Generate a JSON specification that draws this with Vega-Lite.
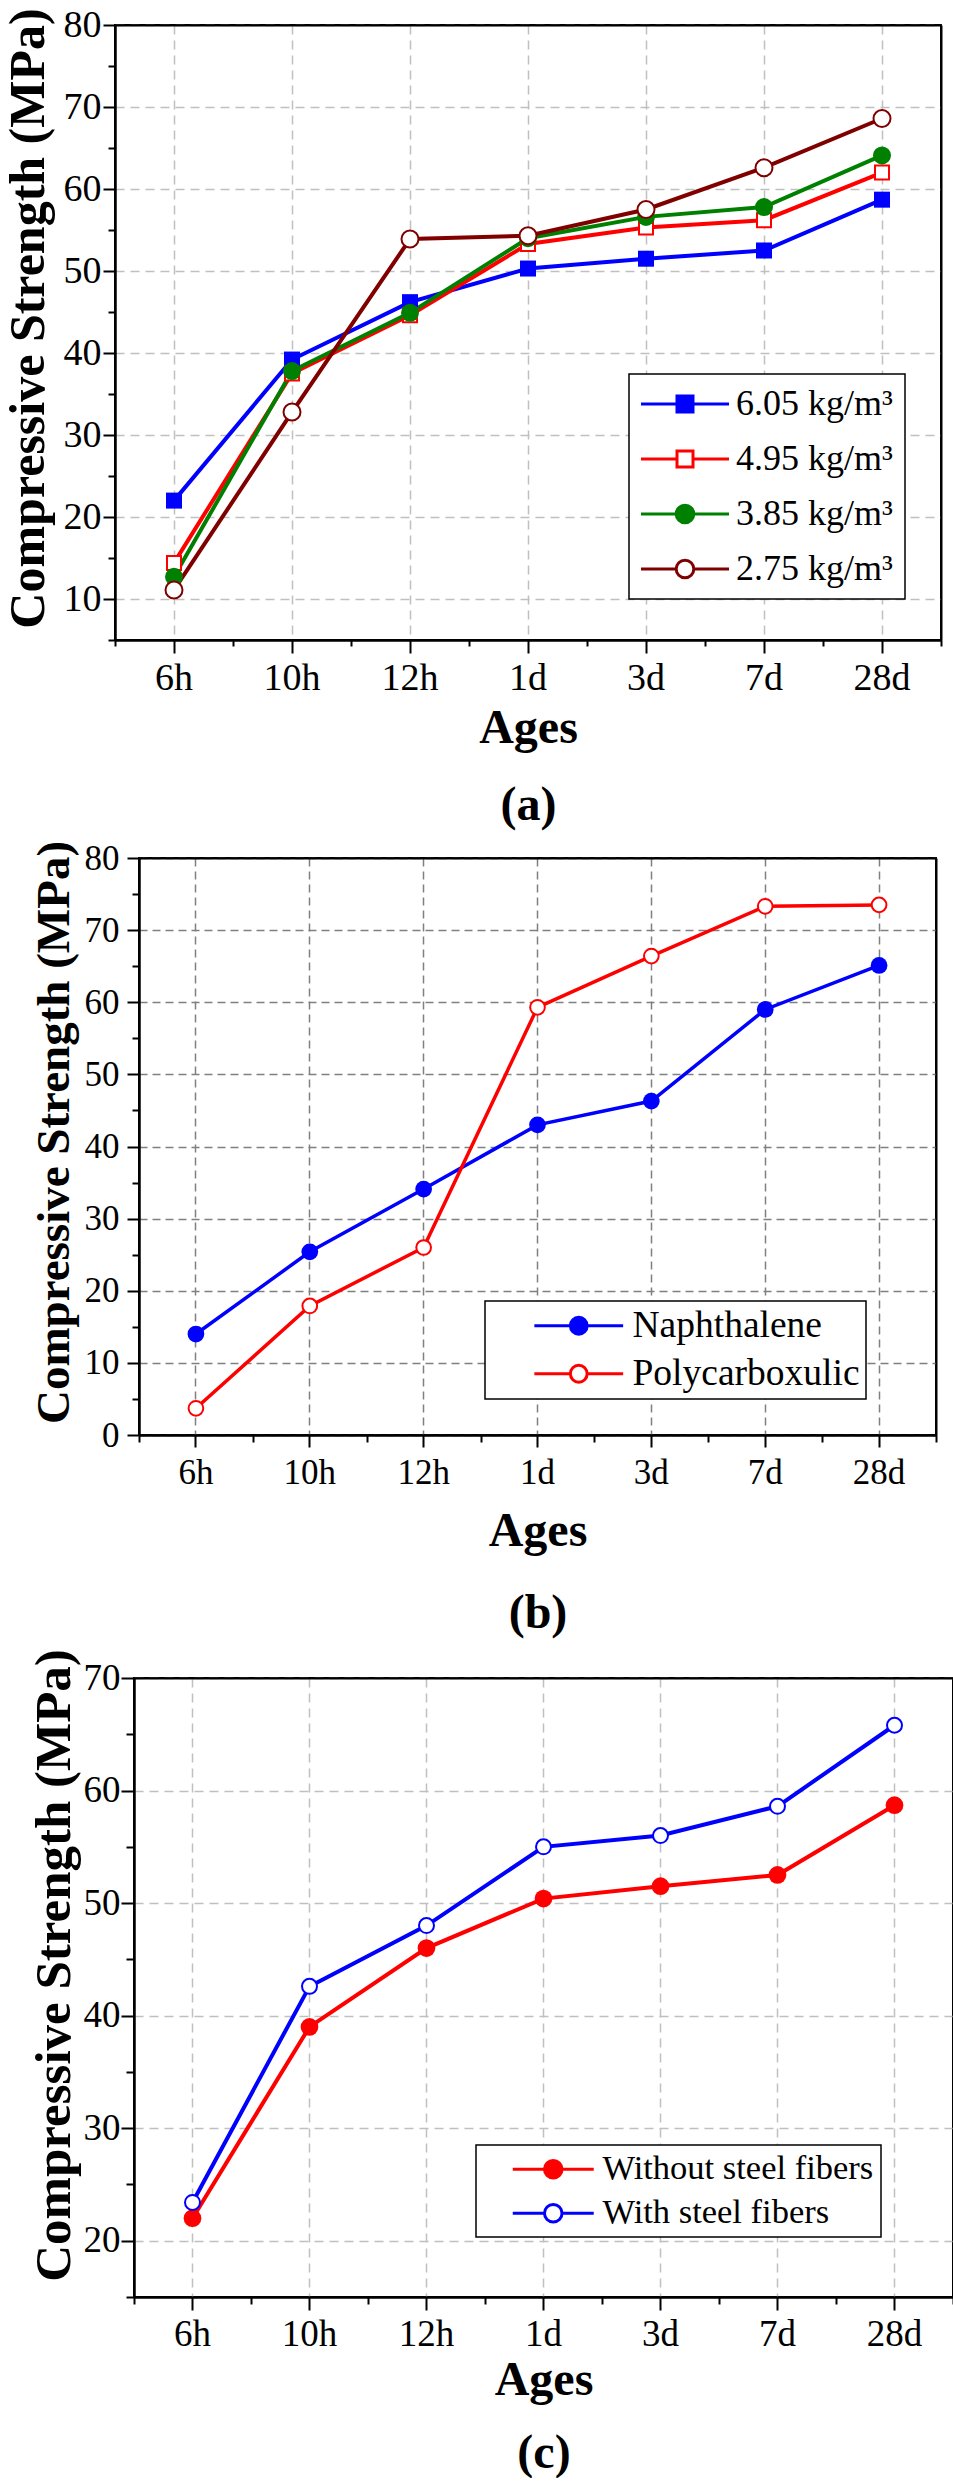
{
"$schema": "https://vega.github.io/schema/vega-lite/v6.json",
"padding": 0,
"autosize": {"type": "pad"},
"background": "white",
"config": {
  "font": "Liberation Serif",
  "view": {"stroke": "black", "strokeWidth": 2},
  "axis": {"labelColor": "black", "titleColor": "black", "domainColor": "black", "tickColor": "black", "labelFont": "Liberation Serif", "titleFont": "Liberation Serif", "labelOverlap": false, "labelFlush": false}
},
"spacing": 3,
"resolve": {"scale": {"color": "independent", "fill": "independent", "stroke": "independent", "shape": "independent"}},
"vconcat": [
{"spacing": 0, "resolve": {"scale": {"color": "independent", "fill": "independent", "stroke": "independent", "shape": "independent"}}, "hconcat": [
{"width": 1, "height": 1, "data": {"values": []}, "mark": "point", "view": {"stroke": null}},
{
  "width": 826, "height": 615,
  "data": {"values": [
    {"age": "6h", "series": "6.05 kg/m³", "strength": 22.0},
    {"age": "10h", "series": "6.05 kg/m³", "strength": 39.2},
    {"age": "12h", "series": "6.05 kg/m³", "strength": 46.2},
    {"age": "1d", "series": "6.05 kg/m³", "strength": 50.3},
    {"age": "3d", "series": "6.05 kg/m³", "strength": 51.5},
    {"age": "7d", "series": "6.05 kg/m³", "strength": 52.5},
    {"age": "28d", "series": "6.05 kg/m³", "strength": 58.7},
    {"age": "6h", "series": "4.95 kg/m³", "strength": 14.4},
    {"age": "10h", "series": "4.95 kg/m³", "strength": 37.5},
    {"age": "12h", "series": "4.95 kg/m³", "strength": 44.6},
    {"age": "1d", "series": "4.95 kg/m³", "strength": 53.3},
    {"age": "3d", "series": "4.95 kg/m³", "strength": 55.3},
    {"age": "7d", "series": "4.95 kg/m³", "strength": 56.2},
    {"age": "28d", "series": "4.95 kg/m³", "strength": 62.0},
    {"age": "6h", "series": "3.85 kg/m³", "strength": 12.7},
    {"age": "10h", "series": "3.85 kg/m³", "strength": 37.8},
    {"age": "12h", "series": "3.85 kg/m³", "strength": 44.9},
    {"age": "1d", "series": "3.85 kg/m³", "strength": 54.0},
    {"age": "3d", "series": "3.85 kg/m³", "strength": 56.6},
    {"age": "7d", "series": "3.85 kg/m³", "strength": 57.8},
    {"age": "28d", "series": "3.85 kg/m³", "strength": 64.1},
    {"age": "6h", "series": "2.75 kg/m³", "strength": 11.1},
    {"age": "10h", "series": "2.75 kg/m³", "strength": 32.8},
    {"age": "12h", "series": "2.75 kg/m³", "strength": 53.9},
    {"age": "1d", "series": "2.75 kg/m³", "strength": 54.3},
    {"age": "3d", "series": "2.75 kg/m³", "strength": 57.5},
    {"age": "7d", "series": "2.75 kg/m³", "strength": 62.6},
    {"age": "28d", "series": "2.75 kg/m³", "strength": 68.6}
  ]},
  "encoding": {
    "x": {"field": "age", "type": "ordinal", "sort": ["6h","10h","12h","1d","3d","7d","28d"], "bandPosition": 0.5,
          "scale": {"type": "band", "paddingInner": 0, "paddingOuter": 0, "domain": ["6h","10h","12h","1d","3d","7d","28d"]}},
    "y": {"field": "strength", "type": "quantitative", "scale": {"domain": [5, 80], "nice": false, "zero": false}},
    "color": {"field": "series", "type": "nominal", "scale": {"domain": ["2.75 kg/m³","3.85 kg/m³","4.95 kg/m³","6.05 kg/m³"], "range": ["#800000","#008000","#ff0000","#0000ff"]}, "legend": null}
  },
  "resolve": {"axis": {"x": "independent", "y": "independent"}},
  "layer": [
    {
      "mark": {"type": "line", "strokeWidth": 4},
      "encoding": {
        "x": {"field": "age", "type": "ordinal", "sort": ["6h","10h","12h","1d","3d","7d","28d"], "bandPosition": 0.5,
              "axis": {"orient": "bottom", "title": ["Ages", "(a)"], "titleFontSize": 48, "titleFontWeight": "bold", "titleLineHeight": 77, "titleBaseline": "alphabetic", "titleY": 102, "titleAngle": 0, "titleAlign": "center",
                       "labelFont": "Liberation Serif", "labelFontSize": 38, "labelAngle": 0, "labelPadding": 6, "tickSize": 13, "tickWidth": 2, "domainWidth": 2,
                       "grid": true, "gridColor": "#c0c0c0", "gridDash": [9, 6], "gridWidth": 1.5}},
        "y": {"field": "strength", "type": "quantitative",
              "axis": {"orient": "left", "values": [10,20,30,40,50,60,70,80], "tickSize": 12, "tickWidth": 2, "domainWidth": 2, "labelFont": "Liberation Serif", "labelFontSize": 38, "labelPadding": 2,
                       "grid": true, "gridColor": "#c0c0c0", "gridDash": [9, 6], "gridWidth": 1.5,
                       "title": "Compressive Strength  (MPa)", "titleFontSize": 50, "titleFontWeight": "bold", "titleAngle": 270, "titleBaseline": "alphabetic", "titleAlign": "center", "titleX": -72, "titleY": 293}},
        "order": {"value": null}
      }
    },
    {
      "transform": [{"filter": {"field": "series", "equal": "6.05 kg/m³"}}],
      "mark": {"type": "point", "shape": "square", "filled": true, "size": 256, "opacity": 1},
      "encoding": {
        "x": {"field": "age", "type": "ordinal", "sort": ["6h","10h","12h","1d","3d","7d","28d"], "bandPosition": 0.5,
              "axis": {"orient": "bottom", "tickBand": "extent", "tickSize": 6, "tickWidth": 2, "labels": false, "domain": true, "domainWidth": 2, "grid": false, "title": null, "zindex": 1}},
        "y": {"field": "strength", "type": "quantitative",
              "axis": {"orient": "left", "values": [5,15,25,35,45,55,65,75], "tickSize": 7, "tickWidth": 2, "labels": false, "domain": true, "domainWidth": 2, "grid": false, "title": null, "zindex": 1}}
      }
    },
    {
      "transform": [{"filter": {"field": "series", "equal": "4.95 kg/m³"}}],
      "mark": {"type": "point", "shape": "square", "filled": false, "fill": "white", "size": 196, "strokeWidth": 2, "opacity": 1},
      "encoding": {
        "x": {"field": "age", "type": "ordinal", "sort": ["6h","10h","12h","1d","3d","7d","28d"], "bandPosition": 0.5,
              "axis": {"orient": "top", "ticks": false, "labels": false, "domain": true, "domainWidth": 2, "grid": false, "title": null, "zindex": 1}},
        "y": {"field": "strength", "type": "quantitative",
              "axis": {"orient": "right", "ticks": false, "labels": false, "domain": true, "domainWidth": 2, "grid": false, "title": null, "zindex": 1}}
      }
    },
    {
      "transform": [{"filter": {"field": "series", "equal": "3.85 kg/m³"}}],
      "mark": {"type": "point", "shape": "circle", "filled": true, "size": 324, "opacity": 1},
      "encoding": {
        "x": {"field": "age", "type": "ordinal", "sort": ["6h","10h","12h","1d","3d","7d","28d"], "bandPosition": 0.5, "axis": null},
        "y": {"field": "strength", "type": "quantitative", "axis": null}
      }
    },
    {
      "transform": [{"filter": {"field": "series", "equal": "2.75 kg/m³"}}],
      "mark": {"type": "point", "shape": "circle", "filled": false, "fill": "white", "size": 289, "strokeWidth": 2, "opacity": 1},
      "encoding": {
        "x": {"field": "age", "type": "ordinal", "sort": ["6h","10h","12h","1d","3d","7d","28d"], "bandPosition": 0.5, "axis": null},
        "y": {"field": "strength", "type": "quantitative", "axis": null}
      }
    },
    {
      "transform": [{"filter": "false"}],
      "mark": {"type": "point", "filled": true, "opacity": 1},
      "encoding": {
        "x": null, "y": null, "color": null,
        "fill": {"field": "series", "type": "nominal", "scale": {"domain": ["6.05 kg/m³","4.95 kg/m³","3.85 kg/m³","2.75 kg/m³"], "range": ["#0000ff","#ffffff","#008000","#ffffff"]},
                 "legend": {"orient": "none", "legendX": 514, "legendY": 349, "direction": "vertical", "title": null, "padding": 12, "symbolSize": 256, "symbolStrokeWidth": 3, "symbolOffset": 26, "labelOffset": 33, "rowPadding": 19, "labelFontSize": 36, "labelFont": "Liberation Serif", "labelColor": "black", "labelLimit": 600, "fillColor": "white", "strokeColor": "black", "symbolFillColor": "white", "symbolOpacity": 1, "encode": {"legend": {"update": {"strokeWidth": {"value": 1.5}}}}}},
        "stroke": {"field": "series", "type": "nominal", "scale": {"domain": ["6.05 kg/m³","4.95 kg/m³","3.85 kg/m³","2.75 kg/m³"], "range": ["#0000ff","#ff0000","#008000","#800000"]},
                 "legend": {"orient": "none", "legendX": 514, "legendY": 349, "direction": "vertical", "title": null, "padding": 12, "symbolSize": 256, "symbolStrokeWidth": 3, "symbolOffset": 26, "labelOffset": 33, "rowPadding": 19, "labelFontSize": 36, "labelFont": "Liberation Serif", "labelColor": "black", "labelLimit": 600, "fillColor": "white", "strokeColor": "black", "symbolFillColor": "white", "symbolOpacity": 1, "encode": {"legend": {"update": {"strokeWidth": {"value": 1.5}}}}}},
        "shape": {"field": "series", "type": "nominal", "scale": {"domain": ["6.05 kg/m³","4.95 kg/m³","3.85 kg/m³","2.75 kg/m³"], "range": ["M-5.5,0H-1M1,0H5.5M-1,-1H1V1H-1Z", "M-5.5,0H-1M1,0H5.5M-1,-1H1V1H-1Z", "M-5.5,0H-1.1M1.1,0H5.5M-1.1,0A1.1,1.1,0,1,1,1.1,0A1.1,1.1,0,1,1,-1.1,0Z", "M-5.5,0H-1.1M1.1,0H5.5M-1.1,0A1.1,1.1,0,1,1,1.1,0A1.1,1.1,0,1,1,-1.1,0Z"]},
                 "legend": {"orient": "none", "legendX": 514, "legendY": 349, "direction": "vertical", "title": null, "padding": 12, "symbolSize": 256, "symbolStrokeWidth": 3, "symbolOffset": 26, "labelOffset": 33, "rowPadding": 19, "labelFontSize": 36, "labelFont": "Liberation Serif", "labelColor": "black", "labelLimit": 600, "fillColor": "white", "strokeColor": "black", "symbolFillColor": "white", "symbolOpacity": 1, "encode": {"legend": {"update": {"strokeWidth": {"value": 1.5}}}}}}
      }
    }
  ]
}]},
{"spacing": 0, "resolve": {"scale": {"color": "independent", "fill": "independent", "stroke": "independent", "shape": "independent"}}, "hconcat": [
{"width": 28, "height": 1, "data": {"values": []}, "mark": "point", "view": {"stroke": null}},
{
  "width": 797, "height": 577,
  "data": {"values": [
    {"age": "6h", "series": "Naphthalene", "strength": 14.0},
    {"age": "10h", "series": "Naphthalene", "strength": 25.4},
    {"age": "12h", "series": "Naphthalene", "strength": 34.1},
    {"age": "1d", "series": "Naphthalene", "strength": 43.0},
    {"age": "3d", "series": "Naphthalene", "strength": 46.3},
    {"age": "7d", "series": "Naphthalene", "strength": 59.0},
    {"age": "28d", "series": "Naphthalene", "strength": 65.1},
    {"age": "6h", "series": "Polycarboxulic", "strength": 3.7},
    {"age": "10h", "series": "Polycarboxulic", "strength": 17.9},
    {"age": "12h", "series": "Polycarboxulic", "strength": 26.0},
    {"age": "1d", "series": "Polycarboxulic", "strength": 59.3},
    {"age": "3d", "series": "Polycarboxulic", "strength": 66.4},
    {"age": "7d", "series": "Polycarboxulic", "strength": 73.3},
    {"age": "28d", "series": "Polycarboxulic", "strength": 73.5}
  ]},
  "encoding": {
    "x": {"field": "age", "type": "ordinal", "sort": ["6h","10h","12h","1d","3d","7d","28d"], "bandPosition": 0.5,
          "scale": {"type": "band", "paddingInner": 0, "paddingOuter": 0, "domain": ["6h","10h","12h","1d","3d","7d","28d"]}},
    "y": {"field": "strength", "type": "quantitative", "scale": {"domain": [0, 80], "nice": false, "zero": false}},
    "color": {"field": "series", "type": "nominal", "scale": {"domain": ["Polycarboxulic","Naphthalene"], "range": ["#ff0000","#0000ff"]}, "legend": null}
  },
  "resolve": {"axis": {"x": "independent", "y": "independent"}},
  "layer": [
    {
      "mark": {"type": "line", "strokeWidth": 3.5},
      "encoding": {
        "x": {"field": "age", "type": "ordinal", "sort": ["6h","10h","12h","1d","3d","7d","28d"], "bandPosition": 0.5,
              "axis": {"orient": "bottom", "title": ["Ages", "(b)"], "titleFontSize": 48, "titleFontWeight": "bold", "titleLineHeight": 82, "titleBaseline": "alphabetic", "titleY": 110, "titleAngle": 0, "titleAlign": "center",
                       "labelFont": "Liberation Serif", "labelFontSize": 35, "labelAngle": 0, "labelPadding": 8, "tickSize": 12, "tickWidth": 2, "domainWidth": 2,
                       "grid": true, "gridColor": "#808080", "gridDash": [8, 5], "gridWidth": 1.5}},
        "y": {"field": "strength", "type": "quantitative",
              "axis": {"orient": "left", "values": [0,10,20,30,40,50,60,70,80], "tickSize": 12, "tickWidth": 2, "domainWidth": 2, "labelFont": "Liberation Serif", "labelFontSize": 35, "labelPadding": 8,
                       "grid": true, "gridColor": "#808080", "gridDash": [8, 5], "gridWidth": 1.5,
                       "title": "Compressive Strength  (MPa)", "titleFontSize": 47, "titleFontWeight": "bold", "titleAngle": 270, "titleBaseline": "alphabetic", "titleAlign": "center", "titleX": -71, "titleY": 274}},
        "order": {"value": null}
      }
    },
    {
      "transform": [{"filter": {"field": "series", "equal": "Naphthalene"}}],
      "mark": {"type": "point", "shape": "circle", "filled": true, "size": 280, "opacity": 1},
      "encoding": {
        "x": {"field": "age", "type": "ordinal", "sort": ["6h","10h","12h","1d","3d","7d","28d"], "bandPosition": 0.5,
              "axis": {"orient": "bottom", "tickBand": "extent", "tickSize": 7, "tickWidth": 2, "labels": false, "domain": true, "domainWidth": 2, "grid": false, "title": null, "zindex": 1}},
        "y": {"field": "strength", "type": "quantitative",
              "axis": {"orient": "left", "values": [5,15,25,35,45,55,65,75], "tickSize": 7, "tickWidth": 2, "labels": false, "domain": true, "domainWidth": 2, "grid": false, "title": null, "zindex": 1}}
      }
    },
    {
      "transform": [{"filter": {"field": "series", "equal": "Polycarboxulic"}}],
      "mark": {"type": "point", "shape": "circle", "filled": false, "fill": "white", "size": 216, "strokeWidth": 2, "opacity": 1},
      "encoding": {
        "x": {"field": "age", "type": "ordinal", "sort": ["6h","10h","12h","1d","3d","7d","28d"], "bandPosition": 0.5,
              "axis": {"orient": "top", "ticks": false, "labels": false, "domain": true, "domainWidth": 2, "grid": false, "title": null, "zindex": 1}},
        "y": {"field": "strength", "type": "quantitative",
              "axis": {"orient": "right", "ticks": false, "labels": false, "domain": true, "domainWidth": 2, "grid": false, "title": null, "zindex": 1}}
      }
    },
    {
      "transform": [{"filter": "false"}],
      "mark": {"type": "point", "filled": true, "opacity": 1},
      "encoding": {
        "x": null, "y": null, "color": null,
        "fill": {"field": "series", "type": "nominal", "scale": {"domain": ["Naphthalene","Polycarboxulic"], "range": ["#0000ff","#ffffff"]},
                 "legend": {"orient": "none", "legendX": 346, "legendY": 443, "direction": "vertical", "title": null, "padding": 6, "symbolSize": 256, "symbolStrokeWidth": 3, "symbolOffset": 69, "labelOffset": 35, "rowPadding": 9, "labelFontSize": 37.5, "labelFont": "Liberation Serif", "labelColor": "black", "labelLimit": 600, "labelExpr": "datum.label + '  '", "fillColor": "white", "strokeColor": "black", "symbolFillColor": "white", "symbolOpacity": 1, "encode": {"legend": {"update": {"strokeWidth": {"value": 1.5}}}}}},
        "stroke": {"field": "series", "type": "nominal", "scale": {"domain": ["Naphthalene","Polycarboxulic"], "range": ["#0000ff","#ff0000"]},
                 "legend": {"orient": "none", "legendX": 346, "legendY": 443, "direction": "vertical", "title": null, "padding": 6, "symbolSize": 256, "symbolStrokeWidth": 3, "symbolOffset": 69, "labelOffset": 35, "rowPadding": 9, "labelFontSize": 37.5, "labelFont": "Liberation Serif", "labelColor": "black", "labelLimit": 600, "labelExpr": "datum.label + '  '", "fillColor": "white", "strokeColor": "black", "symbolFillColor": "white", "symbolOpacity": 1, "encode": {"legend": {"update": {"strokeWidth": {"value": 1.5}}}}}},
        "shape": {"field": "series", "type": "nominal", "scale": {"domain": ["Naphthalene","Polycarboxulic"], "range": ["M-5.55,0H-1.05M1.05,0H5.55M-1.05,0A1.05,1.05,0,1,1,1.05,0A1.05,1.05,0,1,1,-1.05,0Z", "M-5.55,0H-1.05M1.05,0H5.55M-1.05,0A1.05,1.05,0,1,1,1.05,0A1.05,1.05,0,1,1,-1.05,0Z"]},
                 "legend": {"orient": "none", "legendX": 346, "legendY": 443, "direction": "vertical", "title": null, "padding": 6, "symbolSize": 256, "symbolStrokeWidth": 3, "symbolOffset": 69, "labelOffset": 35, "rowPadding": 9, "labelFontSize": 37.5, "labelFont": "Liberation Serif", "labelColor": "black", "labelLimit": 600, "labelExpr": "datum.label + '  '", "fillColor": "white", "strokeColor": "black", "symbolFillColor": "white", "symbolOpacity": 1, "encode": {"legend": {"update": {"strokeWidth": {"value": 1.5}}}}}}
      }
    }
  ]
}]},
{"spacing": 0, "resolve": {"scale": {"color": "independent", "fill": "independent", "stroke": "independent", "shape": "independent"}}, "hconcat": [
{"width": 26, "height": 1, "data": {"values": []}, "mark": "point", "view": {"stroke": null}},
{
  "width": 819, "height": 619,
  "data": {"values": [
    {"age": "6h", "series": "Without steel fibers", "strength": 22.0},
    {"age": "10h", "series": "Without steel fibers", "strength": 39.0},
    {"age": "12h", "series": "Without steel fibers", "strength": 46.0},
    {"age": "1d", "series": "Without steel fibers", "strength": 50.4},
    {"age": "3d", "series": "Without steel fibers", "strength": 51.5},
    {"age": "7d", "series": "Without steel fibers", "strength": 52.5},
    {"age": "28d", "series": "Without steel fibers", "strength": 58.7},
    {"age": "6h", "series": "With steel fibers", "strength": 23.4},
    {"age": "10h", "series": "With steel fibers", "strength": 42.6},
    {"age": "12h", "series": "With steel fibers", "strength": 48.0},
    {"age": "1d", "series": "With steel fibers", "strength": 55.0},
    {"age": "3d", "series": "With steel fibers", "strength": 56.0},
    {"age": "7d", "series": "With steel fibers", "strength": 58.6},
    {"age": "28d", "series": "With steel fibers", "strength": 65.8}
  ]},
  "encoding": {
    "x": {"field": "age", "type": "ordinal", "sort": ["6h","10h","12h","1d","3d","7d","28d"], "bandPosition": 0.5,
          "scale": {"type": "band", "paddingInner": 0, "paddingOuter": 0, "domain": ["6h","10h","12h","1d","3d","7d","28d"]}},
    "y": {"field": "strength", "type": "quantitative", "scale": {"domain": [15, 70], "nice": false, "zero": false}},
    "color": {"field": "series", "type": "nominal", "scale": {"domain": ["With steel fibers","Without steel fibers"], "range": ["#0000ff","#ff0000"]}, "legend": null}
  },
  "resolve": {"axis": {"x": "independent", "y": "independent"}},
  "layer": [
    {
      "mark": {"type": "line", "strokeWidth": 4},
      "encoding": {
        "x": {"field": "age", "type": "ordinal", "sort": ["6h","10h","12h","1d","3d","7d","28d"], "bandPosition": 0.5,
              "axis": {"orient": "bottom", "title": ["Ages", "(c)"], "titleFontSize": 48, "titleFontWeight": "bold", "titleLineHeight": 73, "titleBaseline": "alphabetic", "titleY": 97, "titleAngle": 0, "titleAlign": "center",
                       "labelFont": "Liberation Serif", "labelFontSize": 37, "labelAngle": 0, "labelPadding": 6, "tickSize": 13, "tickWidth": 2, "domainWidth": 2,
                       "grid": true, "gridColor": "#c0c0c0", "gridDash": [9, 6], "gridWidth": 1.5}},
        "y": {"field": "strength", "type": "quantitative",
              "axis": {"orient": "left", "values": [20,30,40,50,60,70], "tickSize": 13, "tickWidth": 2, "domainWidth": 2, "labelFont": "Liberation Serif", "labelFontSize": 37, "labelPadding": 1,
                       "grid": true, "gridColor": "#c0c0c0", "gridDash": [9, 6], "gridWidth": 1.5,
                       "title": "Compressive Strength  (MPa)", "titleFontSize": 51, "titleFontWeight": "bold", "titleAngle": 270, "titleBaseline": "alphabetic", "titleAlign": "center", "titleX": -65, "titleY": 287}},
        "order": {"value": null}
      }
    },
    {
      "transform": [{"filter": {"field": "series", "equal": "Without steel fibers"}}],
      "mark": {"type": "point", "shape": "circle", "filled": true, "size": 313, "opacity": 1},
      "encoding": {
        "x": {"field": "age", "type": "ordinal", "sort": ["6h","10h","12h","1d","3d","7d","28d"], "bandPosition": 0.5,
              "axis": {"orient": "bottom", "tickBand": "extent", "tickSize": 7, "tickWidth": 2, "labels": false, "domain": true, "domainWidth": 2, "grid": false, "title": null, "zindex": 1}},
        "y": {"field": "strength", "type": "quantitative",
              "axis": {"orient": "left", "values": [15,25,35,45,55,65], "tickSize": 8, "tickWidth": 2, "labels": false, "domain": true, "domainWidth": 2, "grid": false, "title": null, "zindex": 1}}
      }
    },
    {
      "transform": [{"filter": {"field": "series", "equal": "With steel fibers"}}],
      "mark": {"type": "point", "shape": "circle", "filled": false, "fill": "white", "size": 225, "strokeWidth": 2, "opacity": 1},
      "encoding": {
        "x": {"field": "age", "type": "ordinal", "sort": ["6h","10h","12h","1d","3d","7d","28d"], "bandPosition": 0.5,
              "axis": {"orient": "top", "ticks": false, "labels": false, "domain": true, "domainWidth": 2, "grid": false, "title": null, "zindex": 1}},
        "y": {"field": "strength", "type": "quantitative",
              "axis": {"orient": "right", "ticks": false, "labels": false, "domain": true, "domainWidth": 2, "grid": false, "title": null, "zindex": 1}}
      }
    },
    {
      "transform": [{"filter": "false"}],
      "mark": {"type": "point", "filled": true, "opacity": 1},
      "encoding": {
        "x": null, "y": null, "color": null,
        "fill": {"field": "series", "type": "nominal", "scale": {"domain": ["Without steel fibers","With steel fibers"], "range": ["#ff0000","#ffffff"]},
                 "legend": {"orient": "none", "legendX": 342, "legendY": 467, "direction": "vertical", "title": null, "padding": 7, "symbolSize": 256, "symbolStrokeWidth": 3, "symbolOffset": 53, "labelOffset": 32, "rowPadding": 9, "labelFontSize": 34.5, "labelFont": "Liberation Serif", "labelColor": "black", "labelLimit": 600, "labelExpr": "datum.label + ' '", "fillColor": "white", "strokeColor": "black", "symbolFillColor": "white", "symbolOpacity": 1, "encode": {"legend": {"update": {"strokeWidth": {"value": 1.5}}}}}},
        "stroke": {"field": "series", "type": "nominal", "scale": {"domain": ["Without steel fibers","With steel fibers"], "range": ["#ff0000","#0000ff"]},
                 "legend": {"orient": "none", "legendX": 342, "legendY": 467, "direction": "vertical", "title": null, "padding": 7, "symbolSize": 256, "symbolStrokeWidth": 3, "symbolOffset": 53, "labelOffset": 32, "rowPadding": 9, "labelFontSize": 34.5, "labelFont": "Liberation Serif", "labelColor": "black", "labelLimit": 600, "labelExpr": "datum.label + ' '", "fillColor": "white", "strokeColor": "black", "symbolFillColor": "white", "symbolOpacity": 1, "encode": {"legend": {"update": {"strokeWidth": {"value": 1.5}}}}}},
        "shape": {"field": "series", "type": "nominal", "scale": {"domain": ["Without steel fibers","With steel fibers"], "range": ["M-5.06,0H-1.1M1.1,0H5.06M-1.1,0A1.1,1.1,0,1,1,1.1,0A1.1,1.1,0,1,1,-1.1,0Z", "M-5.06,0H-1.1M1.1,0H5.06M-1.1,0A1.1,1.1,0,1,1,1.1,0A1.1,1.1,0,1,1,-1.1,0Z"]},
                 "legend": {"orient": "none", "legendX": 342, "legendY": 467, "direction": "vertical", "title": null, "padding": 7, "symbolSize": 256, "symbolStrokeWidth": 3, "symbolOffset": 53, "labelOffset": 32, "rowPadding": 9, "labelFontSize": 34.5, "labelFont": "Liberation Serif", "labelColor": "black", "labelLimit": 600, "labelExpr": "datum.label + ' '", "fillColor": "white", "strokeColor": "black", "symbolFillColor": "white", "symbolOpacity": 1, "encode": {"legend": {"update": {"strokeWidth": {"value": 1.5}}}}}}
      }
    }
  ]
}]}
]
}
